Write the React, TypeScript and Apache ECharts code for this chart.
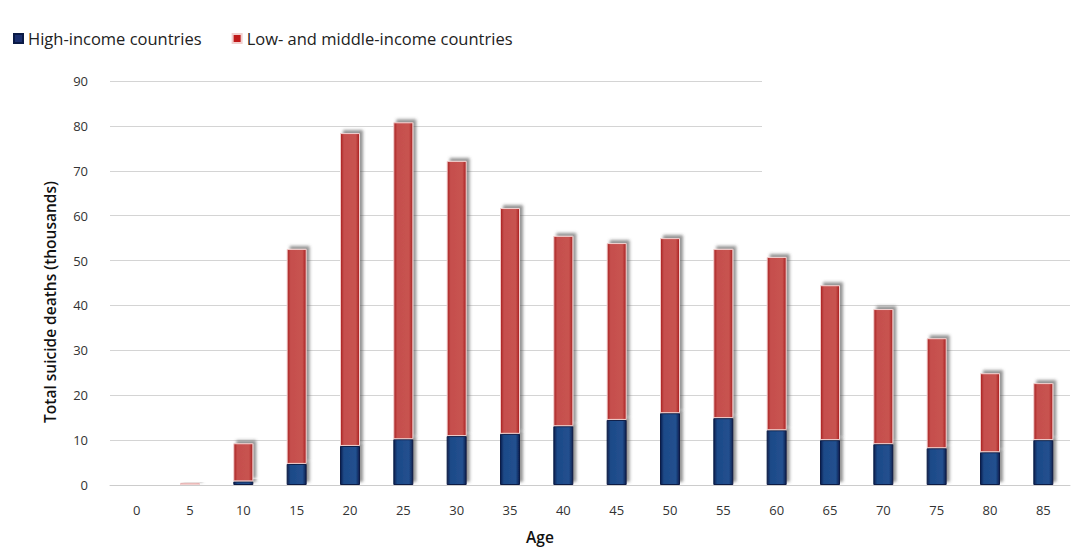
import React, { useEffect, useRef } from "react";
import * as echarts from "echarts";

const ages = ["0", "5", "10", "15", "20", "25", "30", "35", "40", "45", "50", "55", "60", "65", "70", "75", "80", "85"];
const highIncome = [0, 0, 0.8, 4.7, 8.7, 10.2, 10.9, 11.4, 13.1, 14.5, 16.0, 14.9, 12.2, 10.0, 9.1, 8.2, 7.3, 10.0];
const totals = [0, 0.5, 9.3, 52.6, 78.4, 80.8, 72.2, 61.7, 55.5, 53.9, 55.0, 52.6, 50.8, 44.5, 39.2, 32.7, 24.9, 22.7];
const lowMiddle = totals.map((t, i) => Math.round((t - highIncome[i]) * 10) / 10);
const yTicks = [0, 10, 20, 30, 40, 50, 60, 70, 80, 90];

const FONT = "'Open Sans', 'Liberation Sans', sans-serif";

export default function App() {
  const ref = useRef<HTMLDivElement>(null);
  useEffect(() => {
    if (!ref.current) return;
    const chart = echarts.init(ref.current, undefined, { renderer: "svg" });
    const redGrad = new echarts.graphic.LinearGradient(0, 0, 1, 0, [
      { offset: 0, color: "#A81E1E" },
      { offset: 0.18, color: "#C54F4D" },
      { offset: 0.8, color: "#C85350" },
      { offset: 1, color: "#A81E1E" },
    ]);
    const blueGrad = new echarts.graphic.LinearGradient(0, 0, 1, 0, [
      { offset: 0, color: "#0C1F4F" },
      { offset: 0.18, color: "#1D4A88" },
      { offset: 0.8, color: "#22508F" },
      { offset: 1, color: "#0C1F4F" },
    ]);
    chart.setOption({
      animation: false,
      backgroundColor: "#ffffff",
      legend: {
        left: 8,
        top: 25,
        itemWidth: 9,
        itemHeight: 9,
        itemGap: 30,
        icon: "rect",
        textStyle: { fontFamily: FONT, fontSize: 16.5, color: "#222" },
        data: [
          { name: "High-income countries", itemStyle: { color: "#1B2F6E" } },
          { name: "Low- and middle-income countries", itemStyle: { color: "#C01A1A" } },
        ],
      },
      grid: { left: 110, right: 2, top: 81, bottom: 62, containLabel: false },
      xAxis: {
        type: "category",
        data: ages,
        axisLine: { show: true, lineStyle: { color: "#cccccc" } },
        axisTick: { show: false },
        axisLabel: { fontFamily: FONT, fontSize: 13, color: "#333", margin: 18 },
      },
      yAxis: {
        type: "value",
        min: 0,
        max: 90,
        interval: 10,
        axisLine: { show: false },
        axisTick: { show: false },
        axisLabel: {
          fontFamily: FONT,
          fontSize: 13,
          color: "#333",
          margin: 22,
          formatter: (v: number) => (yTicks.includes(v) ? String(v) : ""),
        },
        splitLine: { lineStyle: { color: "#d4d4d4", width: 1 } },
      },
      graphic: [
        {
          type: "rect",
          shape: { x: 762, y: 70, width: 310, height: 108 },
          style: { fill: "#ffffff" },
          z: 5,
        },
        {
          type: "text",
          x: 50,
          y: 302,
          rotation: Math.PI / 2,
          style: {
            text: "Total suicide deaths (thousands)",
            fontFamily: FONT,
            fontSize: 15.5,
            fontWeight: 600,
            fill: "#111",
            align: "center",
            verticalAlign: "middle",
          },
        },
        {
          type: "text",
          x: 540,
          y: 537,
          style: {
            text: "Age",
            fontFamily: FONT,
            fontSize: 15.5,
            fontWeight: 600,
            fill: "#111",
            align: "center",
            verticalAlign: "middle",
          },
        },
      ],
      series: [
        {
          name: "High-income countries",
          type: "bar",
          stack: "total",
          data: highIncome,
          barWidth: 20,
          z: 10,
          itemStyle: {
            color: blueGrad,
            borderColor: "#0A1A45",
            borderWidth: 1,
            shadowColor: "rgba(80,80,80,0.6)",
            shadowBlur: 3,
            shadowOffsetX: 3,
            shadowOffsetY: -3,
          },
        },
        {
          name: "Low- and middle-income countries",
          type: "bar",
          stack: "total",
          data: lowMiddle,
          barWidth: 20,
          z: 10,
          itemStyle: {
            color: redGrad,
            borderColor: "#F2D0CF",
            borderWidth: 1,
            shadowColor: "rgba(80,80,80,0.6)",
            shadowBlur: 3,
            shadowOffsetX: 3,
            shadowOffsetY: -3,
          },
        },
      ],
    });
    return () => chart.dispose();
  }, []);
  return (
    <div
      ref={ref}
      style={{ position: "fixed", left: 0, top: 0, width: 1072, height: 547 }}
    />
  );
}
